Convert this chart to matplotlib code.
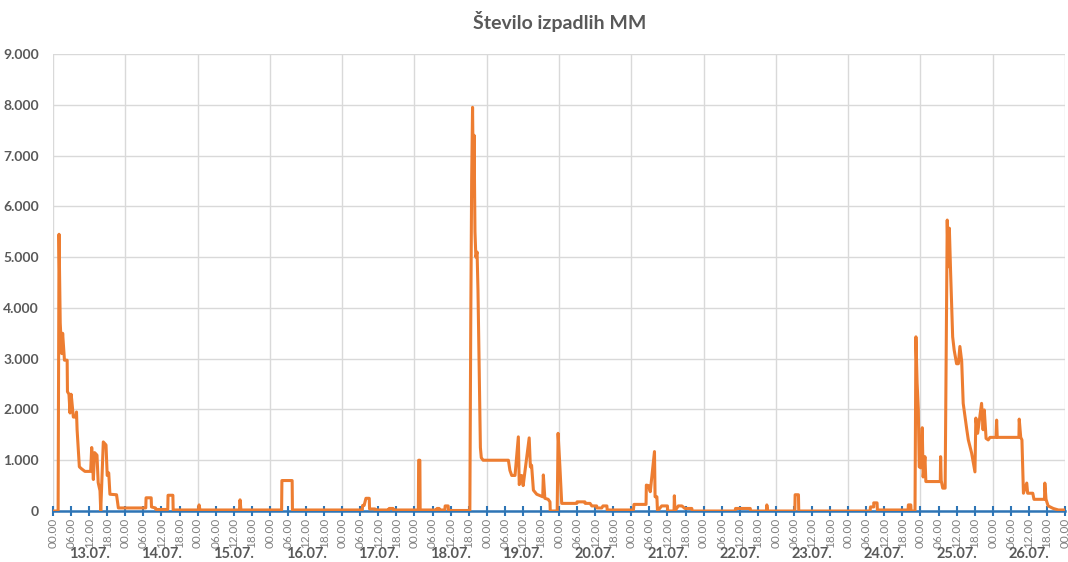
import matplotlib
matplotlib.use("Agg")
import matplotlib.pyplot as plt
from matplotlib.ticker import FixedLocator, FuncFormatter

plt.rcParams['font.family'] = ['Lato', 'DejaVu Sans']

title = "Število izpadlih MM"
day_labels = ["13.07.", "14.07.", "15.07.", "16.07.", "17.07.", "18.07.", "19.07.",
              "20.07.", "21.07.", "22.07.", "23.07.", "24.07.", "25.07.", "26.07."]
hour_labels = ["00.00", "06.00", "12.00", "18.00"]
y_ticks = [0, 1000, 2000, 3000, 4000, 5000, 6000, 7000, 8000, 9000]

# (hours since 13.07. 00.00, number of outages)
seg_13 = [(0, 0), (1.7, 0), (2.0, 5450), (2.4, 3700), (2.9, 3100), (3.2, 3500), (3.65, 3100),
          (3.8, 2970), (4.7, 2970), (4.8, 2350), (5.3, 2300), (5.65, 1930), (6.0, 2300),
          (6.2, 2200), (6.75, 1850), (7.6, 1850), (7.8, 1950), (8.0, 1600), (8.75, 870),
          (9.5, 830), (10.6, 780), (12.5, 780), (12.85, 1250), (13.4, 620), (13.8, 1150),
          (14.6, 1100), (15.0, 560), (15.6, 400), (15.85, 0), (16.7, 1360), (17.6, 1300),
          (18.0, 700), (18.5, 750), (18.9, 330), (21.1, 320), (21.7, 60)]
seg_14_17 = [(30.8, 60), (30.9, 260), (32.6, 260), (32.7, 80), (34.0, 60), (34.2, 30),
             (38.1, 30), (38.2, 310), (39.8, 310), (39.9, 20), (48.3, 20), (48.5, 120),
             (48.8, 20), (61.9, 20), (62.1, 220), (62.4, 20), (75.9, 20), (76.0, 600),
             (79.4, 600), (79.5, 20), (102.7, 20), (102.8, 110), (103.3, 110), (103.9, 250),
             (105.0, 250), (105.1, 40), (106.9, 40), (107.0, 20), (111.5, 20), (111.6, 50),
             (112.9, 50), (113.0, 20), (121.3, 20), (121.4, 1000), (121.8, 1000), (121.9, 20),
             (127.4, 20), (127.5, 50), (128.2, 50), (128.3, 20), (130.1, 20), (130.2, 100),
             (131.2, 100), (131.3, 10), (138.4, 10)]
seg_18_20 = [(138.7, 3700), (139.0, 6500), (139.3, 7950), (139.6, 6200), (139.8, 7400),
             (140.1, 5500), (140.4, 5000), (140.8, 5100), (141.1, 4350), (141.9, 1250),
             (142.2, 1050), (142.8, 1000), (151.2, 1000), (151.7, 800), (152.3, 700),
             (153.4, 700), (154.5, 1460), (154.8, 520), (155.6, 700), (156.1, 500),
             (158.1, 1440), (158.5, 870), (158.9, 900), (159.5, 410), (160.6, 330),
             (162.6, 280), (162.8, 710), (163.3, 250), (164.4, 230), (165.0, 180), (165.1, 0),
             (167.4, 0), (167.7, 1530), (168.3, 870), (168.9, 150), (173.9, 150), (174.0, 180),
             (176.6, 180), (176.7, 150), (178.3, 150), (178.9, 100), (180.5, 100), (180.6, 60),
             (182.2, 60), (182.6, 100), (183.9, 100), (184.0, 20), (192.7, 20)]
seg_21_24 = [(192.9, 130), (196.9, 130), (197.0, 510), (197.7, 500), (198.3, 380),
             (199.7, 1170), (199.9, 280), (200.5, 280), (200.7, 0), (202.1, 100), (204.0, 100),
             (204.1, 0), (206.2, 0), (206.3, 300), (206.5, 0), (207.6, 100), (208.8, 100),
             (209.8, 50), (212.1, 50), (212.2, 0), (226.5, 0), (226.6, 50), (231.5, 50),
             (231.6, 0), (236.9, 0), (237.0, 120), (237.3, 0), (246.3, 0), (246.4, 320),
             (247.5, 320), (247.6, 0), (271.3, 0), (271.4, 80), (272.5, 80), (272.5, 160),
             (273.6, 160), (273.7, 20), (283.9, 20), (284.0, 120), (284.8, 120), (284.9, 0),
             (286.2, 0)]
seg_24_26 = [(286.5, 3430), (286.9, 2520), (287.3, 1990), (287.6, 870), (288.1, 850),
             (288.6, 1640), (288.9, 670), (289.5, 1070), (289.8, 580), (294.6, 580),
             (294.7, 1070), (294.9, 600), (295.4, 450), (296.2, 450), (296.9, 5730),
             (297.2, 4810), (297.6, 5570), (298.0, 4740), (298.5, 3820), (298.7, 3430),
             (299.2, 3170), (300.0, 2900), (300.6, 2900), (301.1, 3240), (301.7, 2950),
             (302.2, 2120), (303.4, 1600), (303.9, 1400), (305.0, 1140), (306.1, 770),
             (306.4, 1830), (307.0, 1530), (308.3, 2120), (308.8, 1600), (309.2, 1990),
             (309.8, 1430), (310.5, 1400), (311.1, 1450), (313.1, 1450), (313.3, 1790),
             (313.5, 1450), (320.7, 1450), (320.8, 1810), (321.3, 1450), (321.7, 1400),
             (322.2, 350), (323.3, 550), (323.6, 350), (325.3, 350), (325.7, 230), (329.2, 230),
             (329.3, 550), (329.7, 230), (330.4, 100), (332.1, 50), (333.8, 20), (336.0, 20)]

series = seg_13 + seg_14_17 + seg_18_20 + seg_21_24 + seg_24_26
hours = [p[0] for p in series]
outages = [p[1] for p in series]

ORANGE = "#ED7D31"
BLUE = "#2E75B6"
GRID = "#D9D9D9"
TXT = "#595959"

fig = plt.figure(figsize=(10.68, 5.62), dpi=100)
ax = fig.add_axes([53 / 1068, 1 - 511 / 562, (1065 - 53) / 1068, (511 - 54) / 562])

n_days = len(day_labels)
x_end = 24 * n_days

ax.plot(hours, outages, color=ORANGE, lw=2.2, zorder=4)

ax.set_xlim(0, x_end)
ax.set_ylim(0, 9000)

for d in range(n_days + 1):
    ax.axvline(24 * d, color=GRID, lw=1.0, zorder=0)
ax.yaxis.set_major_locator(FixedLocator(y_ticks))
ax.grid(axis='y', color=GRID, lw=1.0, zorder=0)
ax.set_axisbelow(True)

for s in ['top', 'right', 'left']:
    ax.spines[s].set_visible(False)
ax.spines['bottom'].set_color(BLUE)
ax.spines['bottom'].set_linewidth(1.8)
ax.spines['bottom'].set_zorder(3)

ax.yaxis.set_major_formatter(FuncFormatter(lambda v, p: f"{v:,.0f}".replace(",", ".")))
ax.tick_params(axis='y', length=0, pad=10, labelsize=10, labelcolor=TXT)
for t in ax.get_yticklabels():
    t.set_fontweight('bold')

xt = list(range(0, x_end + 1, 6))
ax.xaxis.set_major_locator(FixedLocator(xt))
ax.set_xticklabels([hour_labels[i % 4] for i in range(len(xt))], rotation=90,
                   fontsize=8.5, color="#7F7F7F")
ax.tick_params(axis='x', direction='inout', length=7, width=1.5, color=BLUE, pad=1.5)

for d, lab in enumerate(day_labels):
    ax.text(24 * d + 12, -0.094, lab, transform=ax.get_xaxis_transform(), ha='center',
            va='center', fontsize=10.5, fontweight='bold', color=TXT)

fig.text(0.524, 1 - 22 / 562, title, ha='center', va='center', fontsize=14,
         fontweight='bold', color=TXT)

fig.savefig("out.png", dpi=100)
